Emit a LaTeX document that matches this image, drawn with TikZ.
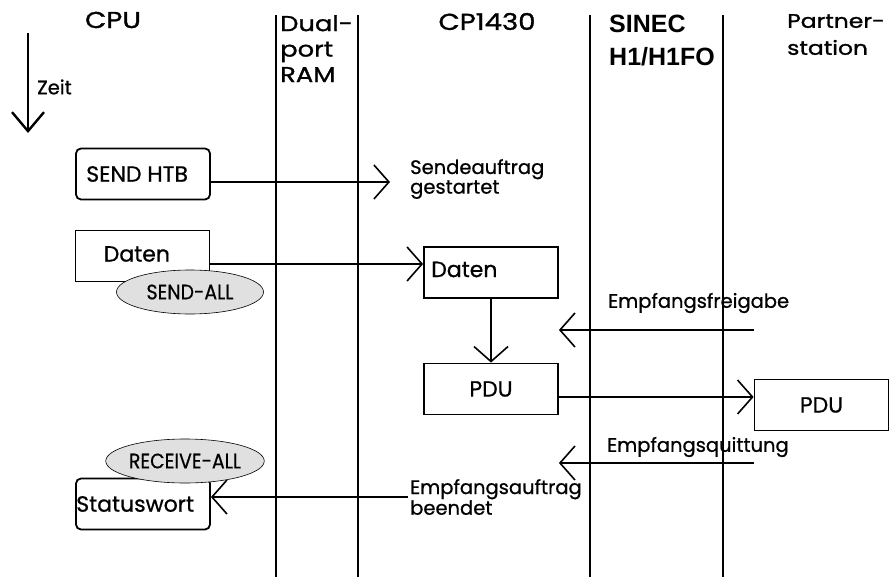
\documentclass[tikz,border=0pt]{standalone}
\usepackage{fontspec}
\setmainfont{Poppins}[FakeBold=0.8]
\newfontfamily\headfont{Poppins}[FakeStretch=1.2, FakeBold=1.2]
\newfontfamily\sinecfont{Liberation Sans}[BoldFont={Liberation Sans Bold}]
\newfontfamily\narrowfont{Poppins}[FakeStretch=0.9, FakeBold=0.5]
\usetikzlibrary{arrows.meta, positioning, shapes.geometric}
\definecolor{bubblegray}{HTML}{E0E0E0}

\begin{document}
\begin{tikzpicture}[
  x=1pt, y=-1pt,
  lifeline/.style={line width=1.6pt},
  head/.style={font=\headfont\fontsize{23}{25.5}\selectfont, inner sep=0pt, align=left},
  msgbox/.style={draw, line width=1.8pt, fill=white, minimum width=134pt, minimum height=51pt, inner sep=0pt, font=\fontsize{22}{24}\selectfont},
  boxtext/.style={font=\fontsize{22}{24}\selectfont, inner sep=0pt},
  note/.style={font=\fontsize{19.5}{17}\selectfont, inner sep=0pt, align=left},
  bubble/.style={ellipse, draw, line width=0.6pt, fill=bubblegray, minimum width=147pt, minimum height=44pt, inner sep=0pt, font=\narrowfont\fontsize{21}{21}\selectfont},
  msg/.style={line width=1.6pt, -{Straight Barb[length=15pt, width=34pt]}},
  zeitarrow/.style={line width=2.4pt, -{Straight Barb[length=19pt, width=32pt]}}
]
\useasboundingbox (0,0) rectangle (893,577);

% lifelines
\foreach \x [count=\i] in {276,358,590,723} {
  \coordinate (top\i) at (\x,15);
  \coordinate (bot\i) at (\x,577);
  \draw[lifeline] (top\i) -- (bot\i);
}

% headers
\node[head] (cpu) at (113,20) {CPU};
\node[head, anchor=north west, font=\headfont\fontsize{21.5}{25.5}\selectfont] (dpram) at (280,15) {Dual-\\port\\RAM};
\node[head] (cp) at (487,21.5) {CP1430};
\node[head, anchor=north west, font=\sinecfont\bfseries\fontsize{25}{33}\selectfont] (sinec) at (609,15) {SINEC\\H1/H1FO};
\node[head, anchor=north west, font=\headfont\fontsize{19.5}{27}\selectfont] (partner) at (787,14) {Partner-\\station};

% time axis
\coordinate (zeit start) at (28,33);
\coordinate (zeit end) at (28,133);
\draw[zeitarrow] (zeit start) -- (zeit end);
\node[note, anchor=west] (zeit) at (37,87) {Zeit};

% boxes
\node[msgbox, rounded corners=5pt] (sendhtb) at (143,174) {};
\node[boxtext, right=11pt of sendhtb.west] {SEND HTB};
\node[msgbox] (cpudaten) at (142.5,256) {};
\node[boxtext, right=29pt of cpudaten.west, yshift=2pt] {Daten};
\node[msgbox] (cpdaten) at (491,272.5) {};
\node[boxtext, right=8pt of cpdaten.west, yshift=3pt] {Daten};
\node[msgbox] (cppdu) at (491,389) {PDU};
\node[msgbox] (partnerpdu) at (821.5,405) {PDU};
\node[msgbox, rounded corners=5pt] (status) at (143,504) {};
\node[boxtext, right=1pt of status.west] {Statuswort};

% notes
\node[note, anchor=west] (sendnote) at (410,179) {Sendeauftrag\\gestartet};
\node[note, anchor=west] (freinote) at (608,303) {Empfangsfreigabe};
\node[note, anchor=west] (quittnote) at (607,447) {Empfangsquittung};
\node[note, anchor=west] (endnote) at (410,497) {Empfangsauftrag\\beendet};

% messages
\coordinate (send tip) at (390,182);
\draw[msg] (sendhtb.east |- send tip) -- (send tip);
\draw[msg] ([yshift=8.5pt]cpdaten.west -| cpudaten.east) -- ([yshift=8.5pt]cpdaten.west);
\draw[msg] (cpdaten.south) -- (cppdu.north);
\coordinate (frei) at (0,330);
\draw[msg] (frei -| partnerpdu.west) -- (frei -| cppdu.east);
\draw[msg] ([yshift=-8pt]cppdu.east) -- ([yshift=-8pt]cppdu.east -| partnerpdu.west);
\coordinate (quitt) at (0,463);
\draw[msg] (quitt -| partnerpdu.west) -- (quitt -| cppdu.east);
\coordinate (end start) at (408,497);
\draw[msg] (end start) -- (end start -| status.east);

% bubbles
\node[bubble] (sendall) at (190,292) {SEND-ALL};
\node[bubble] (recvall) at (185,461) {RECEIVE-ALL};
\end{tikzpicture}
\end{document}
